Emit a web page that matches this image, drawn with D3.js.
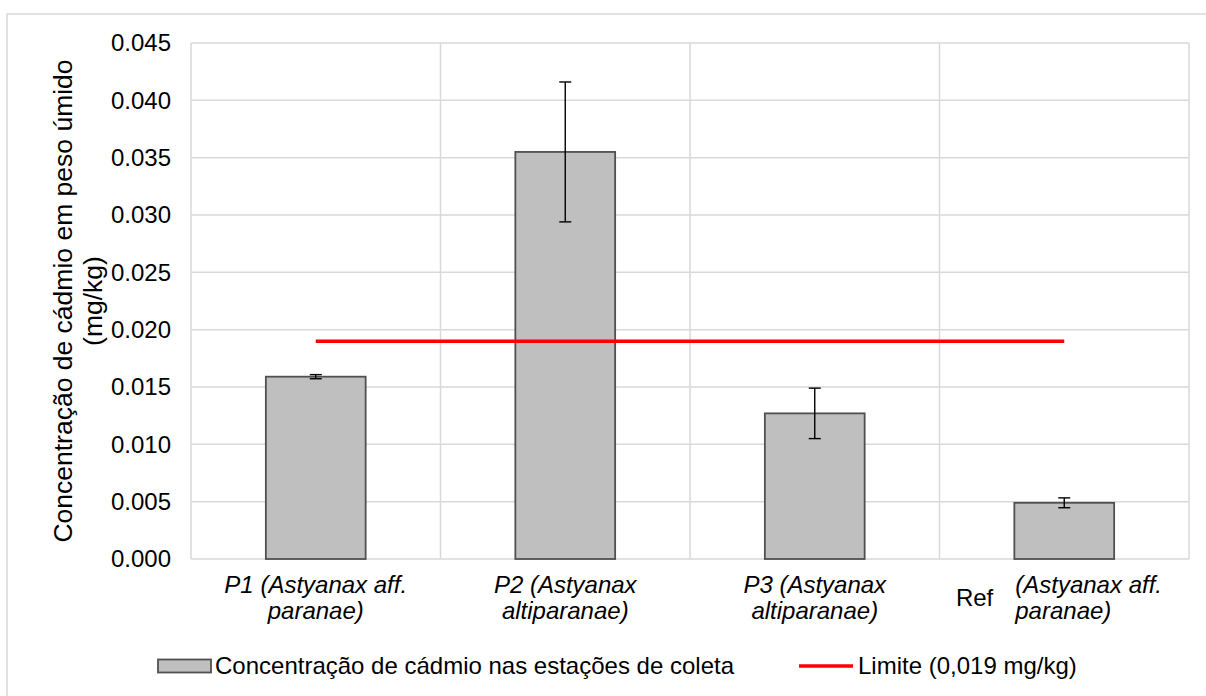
<!DOCTYPE html>
<html>
<head>
<meta charset="utf-8">
<script src="https://cdn.jsdelivr.net/npm/d3@7"></script>
<style>
  html, body { margin: 0; padding: 0; background: #ffffff; }
  svg { display: block; font-family: "Liberation Sans", Arial, sans-serif; }
</style>
</head>
<body>
<svg id="chart" width="1206" height="696"></svg>
<script>
// ---- data ----
const categories = ["P1", "P2", "P3", "Ref"];
const values = [0.0159, 0.0355, 0.0127, 0.0049];
const errors = [0.00018, 0.0061, 0.0022, 0.00043];
const limitValue = 0.019;
const yTicks = [0, 0.005, 0.010, 0.015, 0.020, 0.025, 0.030, 0.035, 0.040, 0.045];
const labelPrefix = ["", "", "", "Ref"];
const labelLines = [
  ["P1 (Astyanax aff.", "paranae)"],
  ["P2 (Astyanax", "altiparanae)"],
  ["P3 (Astyanax", "altiparanae)"],
  ["(Astyanax aff.", "paranae)"]
];
const yTitleLines = ["Concentração de cádmio em peso úmido", "(mg/kg)"];
const legendBarLabel = "Concentração de cádmio nas estações de coleta";
const legendLineLabel = "Limite (0,019 mg/kg)";

// ---- layout ----
const svg = d3.select("#chart");
const pLeft = 191, pRight = 1189, pTop = 43, pBottom = 559;
const grid = "#d9d9d9";

// outer chart border
svg.append("rect").attr("x", 7).attr("y", 14).attr("width", 1220).attr("height", 720)
  .attr("fill", "none").attr("stroke", grid).attr("stroke-width", 1.5);

const x = d3.scaleBand().domain(categories).range([pLeft, pRight]).paddingInner(0).paddingOuter(0);
const y = d3.scaleLinear().domain([0, 0.045]).range([pBottom, pTop]);

// horizontal gridlines
svg.append("g").selectAll("line").data(yTicks).join("line")
  .attr("x1", pLeft).attr("x2", pRight)
  .attr("y1", d => y(d)).attr("y2", d => y(d))
  .attr("stroke", grid).attr("stroke-width", 1.5);

// vertical gridlines at category boundaries
const bounds = categories.map(c => x(c)).concat([x(categories[categories.length - 1]) + x.bandwidth()]);
svg.append("g").selectAll("line").data(bounds).join("line")
  .attr("x1", d => d).attr("x2", d => d)
  .attr("y1", pTop).attr("y2", pBottom)
  .attr("stroke", grid).attr("stroke-width", 1.5);

// tick labels
const yAxis = d3.axisLeft(y).tickValues(yTicks).tickFormat(d3.format(".3f")).tickSize(0).tickPadding(20);
const yg = svg.append("g").attr("transform", `translate(${pLeft},0)`).call(yAxis);
yg.select(".domain").remove();
yg.selectAll("text").attr("font-size", 24).attr("fill", "#000").attr("font-family", "Liberation Sans, Arial, sans-serif");

// bars
const bw = x.bandwidth() / 2.5;
svg.append("g").selectAll("rect").data(values).join("rect")
  .attr("x", (d, i) => x(categories[i]) + (x.bandwidth() - bw) / 2)
  .attr("y", d => y(d))
  .attr("width", bw)
  .attr("height", d => y(0) - y(d))
  .attr("fill", "#bfbfbf").attr("stroke", "#505050").attr("stroke-width", 1.8);

// error bars
const eg = svg.append("g").attr("stroke", "#000").attr("stroke-width", 1.4);
values.forEach((v, i) => {
  const cx = x(categories[i]) + x.bandwidth() / 2;
  const y1 = y(v + errors[i]), y2 = y(v - errors[i]);
  eg.append("line").attr("x1", cx).attr("x2", cx).attr("y1", y1).attr("y2", y2);
  eg.append("line").attr("x1", cx - 6).attr("x2", cx + 6).attr("y1", y1).attr("y2", y1);
  eg.append("line").attr("x1", cx - 6).attr("x2", cx + 6).attr("y1", y2).attr("y2", y2);
});

// limit line (from first to last category centre)
const lineData = categories.map(c => ({ c, v: limitValue }));
svg.append("path").datum(lineData)
  .attr("d", d3.line().x(d => x(d.c) + x.bandwidth() / 2).y(d => y(d.v)))
  .attr("fill", "none").attr("stroke", "#ff0000").attr("stroke-width", 3.5);

// category labels
categories.forEach((c, i) => {
  const cx = x(c) + x.bandwidth() / 2;
  if (labelPrefix[i]) {
    svg.append("text").attr("x", cx - 71).attr("y", 606)
      .attr("text-anchor", "end").attr("font-size", 24).attr("fill", "#000")
      .text(labelPrefix[i]);
    const t = svg.append("text").attr("font-size", 24).attr("font-style", "italic")
      .attr("fill", "#000").attr("text-anchor", "start");
    labelLines[i].forEach((ln, j) => {
      t.append("tspan").attr("x", cx - 49).attr("y", 593 + j * 26).text(ln);
    });
  } else {
    const t = svg.append("text").attr("font-size", 24).attr("font-style", "italic")
      .attr("fill", "#000").attr("text-anchor", "middle");
    labelLines[i].forEach((ln, j) => {
      t.append("tspan").attr("x", cx).attr("y", 593 + j * 26).text(ln);
    });
  }
});

// y axis title
const cy = (pTop + pBottom) / 2;
yTitleLines.forEach((ln, j) => {
  svg.append("text")
    .attr("transform", `translate(${72 + j * 30},${cy}) rotate(-90)`)
    .attr("text-anchor", "middle").attr("font-size", 26.5).attr("fill", "#000")
    .text(ln);
});

// legend
const ly = 666;
svg.append("rect").attr("x", 158).attr("y", ly - 6.5).attr("width", 53).attr("height", 13)
  .attr("fill", "#bfbfbf").attr("stroke", "#505050").attr("stroke-width", 1.8);
svg.append("text").attr("x", 215).attr("y", ly).attr("dy", "0.35em")
  .attr("font-size", 24).attr("fill", "#000").text(legendBarLabel);
svg.append("line").attr("x1", 799).attr("x2", 853).attr("y1", ly).attr("y2", ly)
  .attr("stroke", "#ff0000").attr("stroke-width", 3.5);
svg.append("text").attr("x", 858).attr("y", ly).attr("dy", "0.35em")
  .attr("font-size", 24).attr("fill", "#000").text(legendLineLabel);
</script>
</body>
</html>
